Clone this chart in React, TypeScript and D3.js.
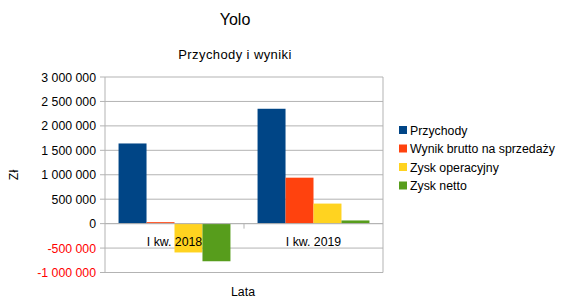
import React from "react";
import * as d3 from "d3";

const categories = ["I kw. 2018", "I kw. 2019"];
const seriesNames = ["Przychody", "Wynik brutto na sprzedaży", "Zysk operacyjny", "Zysk netto"];
const seriesColors = ["#004586", "#ff420e", "#ffd320", "#579d1c"];
const przychody = [1640000, 2350000];
const wynikBrutto = [30000, 940000];
const zyskOperacyjny = [-590000, 410000];
const zyskNetto = [-770000, 65000];
const yTicks = [-1000000, -500000, 0, 500000, 1000000, 1500000, 2000000, 2500000, 3000000];

const seriesValues = [przychody, wynikBrutto, zyskOperacyjny, zyskNetto];

const fmt = (v: number) => {
  const s = Math.abs(v).toString().replace(/\B(?=(\d{3})+(?!\d))/g, " ");
  return (v < 0 ? "-" : "") + s;
};

export default function App() {
  const W = 565, H = 306;
  const left = 105, right = 383, top = 77, bottom = 272.5;
  const y = d3.scaleLinear().domain([-1000000, 3000000]).range([bottom, top]);
  const x0 = d3.scaleBand().domain(categories).range([left, right]).paddingInner(0.195).paddingOuter(0.0975);
  const x1 = d3.scaleBand().domain(seriesNames).range([0, x0.bandwidth()]);
  const font = "'Liberation Sans', Arial, sans-serif";
  const zero = y(0);
  return (
    <svg width={W} height={H} style={{ position: "absolute", left: 0, top: 0 }} fontFamily={font}>
      <rect width={W} height={H} fill="#fff" />
      <text x={235} y={25} textAnchor="middle" fontSize={16} fill="#000">Yolo</text>
      <text x={235} y={59} textAnchor="middle" fontSize={13} fill="#000" letterSpacing={0.4}>Przychody i wyniki</text>
      {yTicks.map((t) => (
        <g key={t}>
          <line x1={left} x2={right} y1={y(t)} y2={y(t)} stroke="#b3b3b3" strokeWidth={1} />
          <line x1={left - 5} x2={left} y1={y(t)} y2={y(t)} stroke="#b3b3b3" strokeWidth={1} />
          <text x={96} y={y(t) + 4.5} textAnchor="end" fontSize={12.3} fill={t < 0 ? "#ff0000" : "#000"}>{fmt(t)}</text>
        </g>
      ))}
      <line x1={right} x2={right} y1={top} y2={bottom} stroke="#b3b3b3" strokeWidth={1} />
      <line x1={left} x2={left} y1={top} y2={bottom} stroke="#b3b3b3" strokeWidth={1} />
      {categories.map((c, ci) => (
        <g key={c}>
          {seriesNames.map((s, si) => {
            const v = seriesValues[si][ci];
            const bx = (x0(c) ?? 0) + (x1(s) ?? 0);
            return (
              <rect key={s} x={bx} y={Math.min(y(v), zero)} width={x1.bandwidth()} height={Math.abs(y(v) - zero)} fill={seriesColors[si]} />
            );
          })}
        </g>
      ))}
      <line x1={left} x2={right} y1={zero} y2={zero} stroke="#b3b3b3" strokeWidth={1} />
      <line x1={(left + right) / 2} x2={(left + right) / 2} y1={zero} y2={zero + 5} stroke="#b3b3b3" strokeWidth={1} />
      {categories.map((c) => (
        <text key={c} x={(x0(c) ?? 0) + x0.bandwidth() / 2} y={zero + 22} textAnchor="middle" fontSize={12.3} fill="#000">{c}</text>
      ))}
      <text x={243} y={296} textAnchor="middle" fontSize={12.3} fill="#000">Lata</text>
      <text transform={`translate(18,175) rotate(-90)`} textAnchor="middle" fontSize={12.3} fill="#000">Zł</text>
      {seriesNames.map((s, i) => (
        <g key={s} transform={`translate(399,${130 + i * 18.5})`}>
          <rect x={0} y={-4} width={8} height={8} fill={seriesColors[i]} />
          <text x={11} y={4.5} fontSize={12.3} fill="#000">{s}</text>
        </g>
      ))}
    </svg>
  );
}
